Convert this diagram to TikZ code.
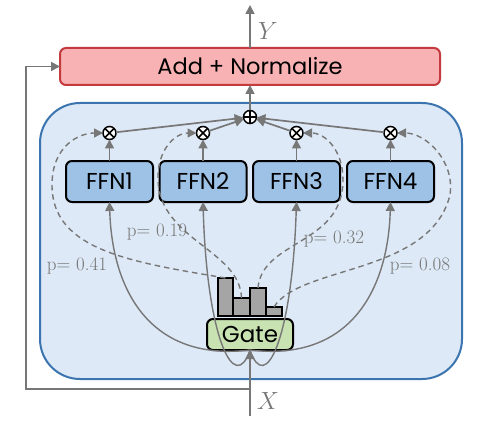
\documentclass[tikz,border=0pt]{standalone}
\usepackage{fontspec}
\newfontfamily\gothic{Poppins}
\usetikzlibrary{arrows.meta}
\definecolor{bigfill}{HTML}{DDE9F6}
\definecolor{bigdraw}{HTML}{3B74AF}
\definecolor{ffnfill}{HTML}{9DC2E6}
\definecolor{gatefill}{HTML}{C8E2B2}
\definecolor{addfill}{HTML}{F8B2B3}
\definecolor{adddraw}{HTML}{C33B3E}
\definecolor{barfill}{HTML}{A5A5A5}
\definecolor{lgray}{HTML}{777777}
\begin{document}
\begin{tikzpicture}[x=1pt,y=-1pt,
  conn/.style={draw=lgray,line width=1.7pt,-{Triangle[length=9pt,width=9pt]}},
  curv/.style={draw=lgray,line width=1.4pt,-{Triangle[length=9pt,width=9pt]}},
  dsh/.style={draw=lgray,line width=1.4pt,dash pattern=on 5.5pt off 4pt,-{Triangle[length=9pt,width=9pt]}},
  ffn/.style={draw=black,line width=2pt,fill=ffnfill,rounded corners=6pt,minimum width=87pt,minimum height=41pt,inner sep=0pt,outer sep=0pt,font=\gothic\fontsize{23}{26}\selectfont},
  gatebox/.style={draw=black,line width=2pt,fill=gatefill,rounded corners=6pt,minimum width=86pt,minimum height=31pt,inner sep=0pt,outer sep=0pt,font=\gothic\fontsize{23}{26}\selectfont},
  addbox/.style={draw=adddraw,line width=2pt,fill=addfill,rounded corners=6pt,minimum width=380pt,minimum height=37pt,inner sep=0pt,outer sep=0pt,font=\gothic\fontsize{22.5}{26}\selectfont},
  bigbox/.style={draw=bigdraw,line width=2pt,fill=bigfill,rounded corners=40pt,minimum width=422pt,minimum height=276pt,inner sep=0pt,outer sep=0pt},
  bar/.style={draw=black,line width=1.5pt,fill=barfill,inner sep=0pt,outer sep=0pt,anchor=south west},
  opnode/.style={circle,draw=black,line width=1.5pt,fill=white,minimum size=13pt,inner sep=0pt,outer sep=0pt},
  plab/.style={text=lgray,font=\fontsize{19}{21}\selectfont,inner sep=1pt},
  vlab/.style={text=lgray,font=\fontsize{23}{25}\selectfont,inner sep=0pt}]
\useasboundingbox (0,0) rectangle (489,422);
\node[bigbox] (moe) at (251,241) {};
\node[addbox] (add) at (250,66.5) {Add + Normalize};
\node[ffn] (f1) at (109.5,181.5) {FFN1};
\node[ffn] (f2) at (203,181.5) {FFN2};
\node[ffn] (f3) at (296.5,181.5) {FFN3};
\node[ffn] (f4) at (390.5,181.5) {FFN4};
\node[gatebox] (gate) at (250,334.5) {Gate};
\node[bar,minimum width=15pt,minimum height=38pt] (b1) at (218,316) {};
\node[bar,minimum width=17pt,minimum height=18pt] (b2) at (233,316) {};
\node[bar,minimum width=16pt,minimum height=28pt] (b3) at (250,316) {};
\node[bar,minimum width=16pt,minimum height=9pt] (b4) at (266,316) {};
\node[opnode] (m1) at (109.5,133) {};
\node[opnode] (m2) at (203,133) {};
\node[opnode] (m3) at (296.5,133) {};
\node[opnode] (m4) at (390.5,133) {};
\node[opnode] (plus) at (250,117) {};
\foreach \m in {m1,m2,m3,m4}{
  \draw[line width=1.5pt] (\m.north west) -- (\m.south east) (\m.north east) -- (\m.south west);
}
\draw[line width=1.5pt] (plus.north) -- (plus.south) (plus.west) -- (plus.east);
% FFN to multiply
\foreach \i in {1,2,3,4}{
  \draw[conn] (f\i) -- (m\i);
  \draw[conn] (m\i) -- (plus);
}
\draw[conn] (plus) -- (add);
\coordinate (yout) at (250,5);
\draw[conn] (add.north) -- (yout);
\node[vlab] (ylab) at (268,31) {$Y$};
% input
\coordinate (xin) at (250,416);
\coordinate (skipa) at (250,389);
\coordinate (skipb) at (26,389);
\draw[conn] (xin) -- (gate.south);
\draw[conn] (skipa) -- (skipb) |- (add.west);
\node[vlab] (xlab) at (268,401) {$X$};
% solid routes
\draw[curv] (gate.south) .. controls (150,362) and (112,290) .. (f1.south);
\draw[curv] (gate.south) .. controls (235,395) and (207,340) .. (f2.south);
\draw[curv] (gate.south) .. controls (265,395) and (292,340) .. (f3.south);
\draw[curv] (gate.south) .. controls (350,362) and (388,290) .. (f4.south);
% dashed weights
\draw[dsh] (b1.north) .. controls (130,262) and (52,250) .. (52,185) .. controls (52,145) and (80,133) .. (m1.west);
\draw[dsh] (b2.north) .. controls (240,250) and (160,240) .. (158,180) .. controls (157,150) and (175,133) .. (m2.west);
\draw[dsh] (b3.north) .. controls (262,240) and (343,245) .. (343,180) .. controls (343,150) and (325,133) .. (m3.east);
\draw[dsh] (b4.north) .. controls (300,265) and (430,275) .. (450,195) .. controls (455,160) and (425,133) .. (m4.east);
\node[plab] (p1) at (77,266) {p= 0.41};
\node[plab] (p2) at (157,232) {p= 0.19};
\node[plab] (p3) at (334,239) {p= 0.32};
\node[plab] (p4) at (420,266) {p= 0.08};
\end{tikzpicture}
\end{document}
